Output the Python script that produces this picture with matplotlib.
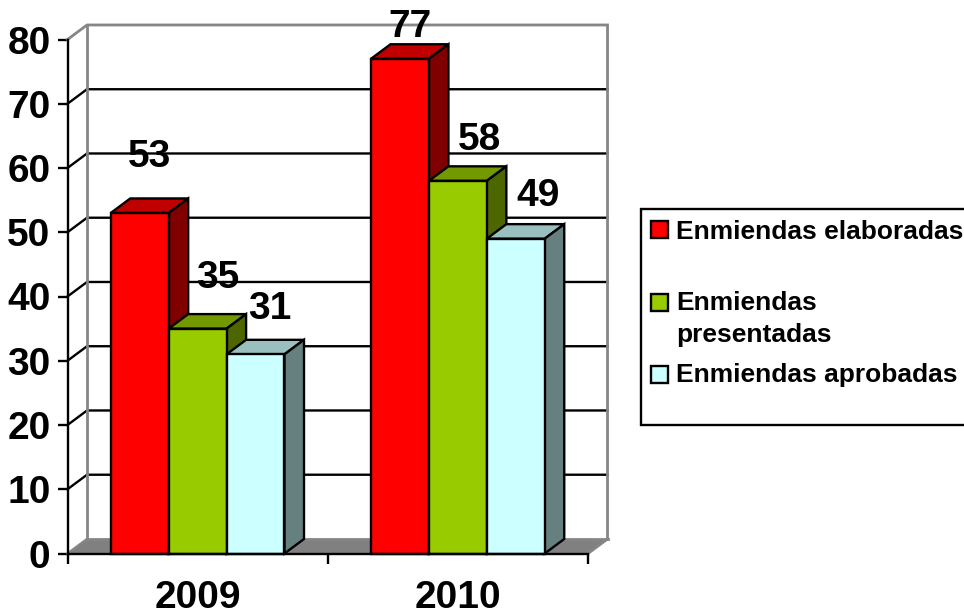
import numpy as np
import matplotlib
matplotlib.use("Agg")
import matplotlib.pyplot as plt
from matplotlib.patches import Rectangle

plt.rcParams['font.family'] = ['Liberation Sans', 'DejaVu Sans']
plt.rcParams['font.weight'] = 'bold'

# --- data ---
years = ['2009', '2010']
elaboradas = [53, 77]
presentadas = [35, 58]
aprobadas = [31, 49]
series_names = ['Enmiendas elaboradas', 'Enmiendas\npresentadas', 'Enmiendas aprobadas']
y_ticks = [0, 10, 20, 30, 40, 50, 60, 70, 80]

# --- style: (front, top, side) for each series ---
shades = [('#FF0000', '#C00000', '#800000'),
          ('#99CC00', '#739900', '#4D6600'),
          ('#CCFFFF', '#99BFBF', '#668080')]
# label shift from the bar's top centre, in pixels
label_shift = [[(10, 56), (20, 51), (14, 45)],
               [(10, 32), (22, 41), (22, 43)]]

W, H = 964, 611
LW = 1.7
BAR_W = 0.2225
DX = 0.075   # depth of the fake 3D box
DY = 2.26
WALL = '#868686'
FS = 28


def fx(x):
    return x / W


def fy(y):
    return 1 - y / H


fig = plt.figure(figsize=(W / 100, H / 100), dpi=100)
ax = fig.add_axes([fx(67.5), fy(553.5), 520.5 / W, 514 / H])
ax.set_xlim(0, 2)
ax.set_ylim(0, 80)
for name in ['top', 'right']:
    ax.spines[name].set_visible(False)
for name in ['left', 'bottom']:
    ax.spines[name].set_linewidth(LW)
    ax.spines[name].set_zorder(30)
ax.patch.set_visible(False)

# floor and back wall
ax.fill([0, 2, 2 + DX, DX], [0, 0, DY, DY], color='#808080', lw=0, zorder=1, clip_on=False)
for v in y_ticks[1:-1]:
    ax.plot([0, DX, 2 + DX], [v, v + DY, v + DY], color='black', lw=LW, zorder=2,
            clip_on=False, solid_joinstyle='miter')
ax.plot([0, DX, 2 + DX, 2 + DX, 2], [80, 80 + DY, 80 + DY, DY, 0], color=WALL, lw=LW + 0.3,
        zorder=3, clip_on=False, solid_joinstyle='miter')
ax.plot([DX, DX, 2 + DX], [80 + DY, DY, DY], color=WALL, lw=LW + 0.3, zorder=3, clip_on=False,
        solid_joinstyle='miter')
ax.plot([0, DX], [0, DY], color=WALL, lw=LW, zorder=3, clip_on=False)

# bars, left to right so each one covers the side of the previous one
series = [elaboradas, presentadas, aprobadas]
z = 5
for g in range(len(years)):
    for s, vals in enumerate(series):
        v = vals[g]
        x0 = g + 0.5 + (s - 1.5) * BAR_W
        x1 = x0 + BAR_W
        front, top, side = shades[s]
        ax.fill([x0, x1, x1 + DX, x0 + DX], [v, v, v + DY, v + DY], facecolor=top,
                edgecolor='black', lw=LW, zorder=z, clip_on=False, joinstyle='miter')
        ax.fill([x1, x1 + DX, x1 + DX, x1], [0, DY, v + DY, v], facecolor=side,
                edgecolor='black', lw=LW, zorder=z, clip_on=False, joinstyle='miter')
        ax.bar(x0, v, width=BAR_W, align='edge', facecolor=front, edgecolor='black',
               lw=LW, zorder=z + 1, clip_on=False)
        z += 2

# value labels
for g in range(len(years)):
    for s, vals in enumerate(series):
        xc = g + 0.5 + (s - 1) * BAR_W
        ax.annotate(str(vals[g]), xy=(xc, vals[g]), xytext=label_shift[g][s],
                    textcoords='offset pixels', ha='center', va='center',
                    fontsize=FS, fontweight='bold', zorder=40, annotation_clip=False)

# axes ticks
ax.set_yticks(y_ticks)
ax.tick_params(axis='y', length=7.2, width=LW, pad=5, labelsize=FS)
ax.set_xticks([0, 1, 2])
ax.set_xticklabels([])
ax.tick_params(axis='x', which='major', length=7.2, width=LW)
ax.set_xticks([0.5, 1.5], minor=True)
ax.set_xticklabels(years, minor=True, fontsize=FS, fontweight='bold', va='baseline')
ax.tick_params(axis='x', which='minor', length=0, pad=39)

# legend box, runs off the right edge like the original
fig.add_artist(Rectangle((fx(641), fy(425)), (W + 20 - 641) / W, (425 - 209) / H, facecolor='white',
                         edgecolor='black', lw=LW, transform=fig.transFigure))
swatch_y = [221, 294, 366]
text_y = [232, 319, 375]
for s, name in enumerate(series_names):
    fig.add_artist(Rectangle((fx(650.5), fy(swatch_y[s] + 17)), 17 / W, 17 / H,
                             facecolor=shades[s][0], edgecolor='black', lw=LW,
                             transform=fig.transFigure))
    fig.text(fx(676), fy(text_y[s]), name, fontsize=19, fontweight='bold', ha='left',
             va='center', linespacing=1.4)

fig.savefig('out.png', dpi=100)
